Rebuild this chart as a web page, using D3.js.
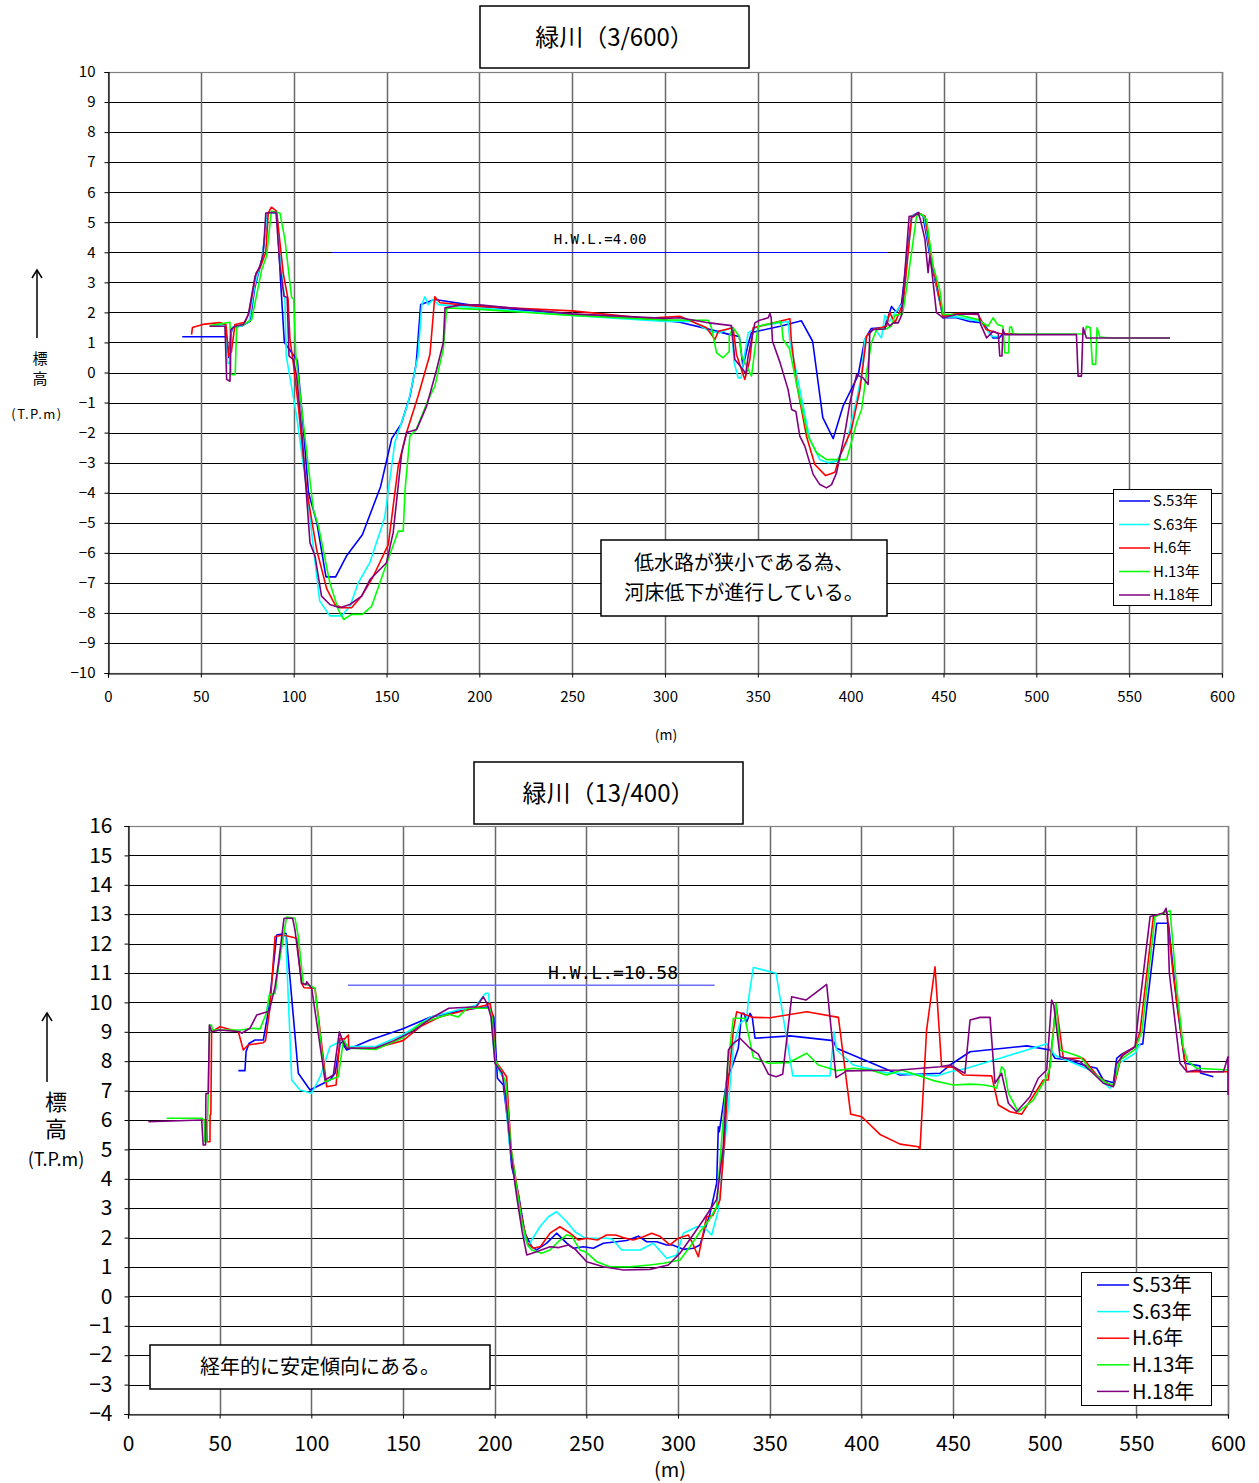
<!DOCTYPE html>
<html><head><meta charset="utf-8">
<script src="https://cdn.jsdelivr.net/npm/d3@7"></script>
<style>
body{margin:0;background:#fff;}
svg{display:block;}
text{font-family:"Noto Sans CJK JP","Noto Sans",sans-serif;fill:#000;}
</style></head>
<body>
<script>
// ---------- DATA ----------
const seriesNames = ["S.53年","S.63年","H.6年","H.13年","H.18年"];
const seriesColors = ["#0000ff","#00ffff","#ff0000","#00ff00","#800080"];

const topTitle = "緑川（3/600）";
const topXTicks = [0,50,100,150,200,250,300,350,400,450,500,550,600];
const topYTicks = [-10,-9,-8,-7,-6,-5,-4,-3,-2,-1,0,1,2,3,4,5,6,7,8,9,10];
const topHWL = [[120.6,4.0],[420,4.0]];
const topHWLLabel = "H.W.L.=4.00";
const topNote = ["低水路が狭小である為、","河床低下が進行している。"];

const topS53 = [[40,1.19],[64,1.19],[65,0.5],[66,1.2],[67,1.5],[72,1.55],[76.5,1.7],[79,2.8],[83,3.8],[86,5.3],[91,5.3],[93,3.0],[95,1.0],[102,0.4],[105,-1.7],[108,-4.0],[112.5,-5.0],[117.4,-6.8],[122.6,-6.8],[128.5,-6.1],[137,-5.4],[146.8,-3.8],[152.8,-2.2],[158,-1.7],[162.6,-0.8],[166,0.3],[168.4,2.26],[176,2.43],[200,2.2],[250,1.93],[300,1.72],[308,1.67],[322.4,1.46],[335,1.26],[340,1.2],[342,0.2],[345,1.0],[346.6,1.33],[362,1.54],[373.5,1.72],[379.5,1.04],[385,-1.5],[390.6,-2.2],[396,-1.1],[404,-0.1],[407.6,1.1],[411,1.46],[418.4,1.5],[422,2.2],[424.7,2.0],[427.4,2.3],[432.8,5.2],[436.4,5.33],[439,5.2],[442.6,3.9],[449.8,1.82],[457,1.82],[464,1.7],[471.4,1.65],[476.7,1.15],[480,1.15],[482,1.3]];
const topS63 = [[56,1.55],[63,1.6],[64.5,0.3],[65.5,0.3],[66.5,1.5],[72,1.55],[76,1.7],[79,2.9],[83,3.8],[86,5.3],[91,5.3],[93,3.6],[95.3,2.4],[96,0.55],[101.6,-1.45],[107,-3.9],[114,-7.6],[119.5,-8.1],[125.8,-8.1],[130.3,-7.78],[134.8,-7.0],[141,-6.33],[149,-4.83],[154.5,-2.33],[161.7,-1.0],[167,0.55],[169,2.26],[170.7,2.52],[172.5,2.26],[175,2.43],[178,2.26],[200,2.15],[250,1.9],[300,1.7],[315,1.7],[324,1.37],[329.5,1.32],[335.8,1.5],[337.3,0.32],[339.4,-0.18],[341,-0.18],[343,0.65],[344.8,1.32],[350.2,1.54],[366.3,1.7],[367.3,1.0],[370.8,0],[378,-2.23],[383.4,-2.9],[388,-3.0],[392.4,-2.95],[397.8,-2.34],[403.2,-0.9],[405.9,-0.07],[407.6,1.1],[410,1.3],[413,1.45],[416.6,1.15],[418.4,1.9],[421,1.7],[424,2.0],[428,2.3],[433,5.2],[436.5,5.3],[439.5,5.2],[443,3.9],[449.8,1.85],[457,1.85],[470,1.7],[476,1.2],[480,1.2]];
const topH6 = [[45,1.26],[45.5,1.5],[51,1.6],[60,1.66],[63.5,1.6],[65,0.55],[66.5,0.7],[68.4,1.6],[73.8,1.67],[76,2.0],[79.7,3.3],[82,3.5],[85,4.0],[86.3,5.3],[88,5.5],[90.8,5.37],[94.4,3.3],[97,2.43],[98,1.1],[99.8,0.33],[102.5,-1.12],[107,-3.9],[112.4,-5.9],[117.8,-7.2],[122.2,-7.72],[125.8,-7.83],[131.2,-7.83],[136.6,-7.44],[142.9,-6.78],[151,-5.72],[156.3,-3.12],[160.8,-2.0],[167,-0.79],[173.4,0.6],[176,2.52],[178.8,2.32],[200,2.2],[250,2.05],[290,1.8],[308,1.87],[322.4,1.49],[326.9,1.1],[328.7,1.37],[336.7,1.49],[338.5,0.6],[343,-0.23],[345.7,0.43],[347.5,1.49],[367.3,1.79],[368,1.09],[370.8,-0.34],[376.2,-2.12],[380.7,-3.06],[386.5,-3.43],[391.5,-3.32],[394.2,-2.78],[400.4,-1.9],[405,-0.57],[408.6,1.21],[412,1.43],[419.3,1.54],[421,2.0],[423.8,1.65],[428.3,2.3],[432.8,5.15],[436.4,5.31],[440,5.2],[443.6,3.76],[449.8,1.87],[457,1.96],[468.7,1.93],[473,1.43],[480,1.3],[490,1.28]];
const topH13 = [[55,1.56],[65.7,1.67],[66.2,-0.07],[68.5,-0.07],[69.3,1.54],[73,1.6],[77.4,1.76],[82.8,3.43],[85.4,3.87],[88,5.37],[92.6,5.31],[95.3,4.43],[98.9,2.49],[100,2.45],[101.2,0.55],[105.2,-1.67],[110.6,-4.56],[113.3,-5.1],[119.5,-7.0],[124,-7.89],[127,-8.22],[131.2,-8.05],[137,-8.05],[142,-7.78],[148.3,-6.67],[156.3,-5.28],[159,-5.28],[160,-3.9],[162.6,-2.12],[166,-1.9],[172.5,-0.9],[176,-0.46],[180.6,0.77],[182.4,2.15],[200,2.1],[250,1.9],[300,1.75],[323.3,1.74],[325,1.5],[327.8,0.65],[331.3,0.49],[334.6,0.7],[334.6,1.21],[336.7,1.49],[340,1.2],[341.2,0.55],[346.6,-0.12],[348.5,0.8],[350.2,1.54],[362,1.7],[363,1.5],[363.6,1.1],[367,0.8],[370,-0.12],[377.1,-2.12],[381.6,-2.67],[387,-2.9],[397.8,-2.9],[400.5,-2.3],[403.2,-1.67],[405.9,-1.23],[408.6,0],[411.2,1.0],[414,1.43],[419,1.45],[422,1.55],[423.8,1.9],[428,1.95],[430,2.76],[435.5,5.2],[438,5.28],[440.9,5.09],[444.4,3.54],[448,2.76],[449.8,1.93],[457,1.93],[468.7,1.76],[474,1.54],[476.7,1.82],[479,1.6],[482,1.54],[483,0.65],[485,0.65],[485.6,1.5],[486.6,1.52],[487.5,1.28],[526,1.28],[527,1.54],[529,1.5],[530.2,0.27],[532,0.27],[532.7,1.49],[534.2,1.18],[540,1.15],[572,1.15]];
const topH18 = [[54.6,1.54],[63,1.54],[63.9,-0.23],[65.7,-0.29],[66.2,1.43],[68.4,1.54],[72.9,1.6],[75.6,1.93],[79.2,3.2],[81.8,3.54],[83.6,3.93],[85,5.31],[90.5,5.33],[92.6,3.54],[94.8,2.54],[96.5,2.5],[97.5,0.55],[99.8,0.43],[101.6,-0.12],[104.3,-1.9],[108.8,-5.67],[111.5,-6.11],[115,-7.44],[119.5,-7.72],[124.9,-7.83],[130.3,-7.72],[136.6,-7.44],[141.1,-6.89],[150,-6.33],[153.6,-5.33],[158.2,-2.67],[160.8,-2.0],[166.2,-1.9],[171.6,-1.12],[177,0.1],[180.6,1.0],[181.5,2.15],[190,2.25],[200,2.25],[250,1.95],[300,1.8],[308,1.82],[324,1.65],[335.8,1.56],[336.7,1.0],[337.6,0.43],[342,0.1],[343.5,-0.05],[344.8,0.55],[348.4,1.65],[351,1.74],[355.6,1.82],[356.5,1.96],[357.2,1.82],[357.9,1.04],[362,0.32],[366.3,-0.57],[368.2,-1.23],[370.5,-1.3],[372.6,-2.12],[375.3,-2.45],[379.8,-3.39],[383.4,-3.73],[387,-3.84],[389.7,-3.73],[392.4,-3.34],[396.9,-2.0],[399.6,-1.0],[403.2,-0.07],[406.7,-0.18],[409.4,-0.4],[410.3,1.32],[412,1.43],[418.5,1.45],[419.3,1.7],[421,1.55],[423,1.65],[425.6,1.65],[427.4,1.9],[431.5,5.2],[434,5.2],[436.4,5.31],[437.5,5.1],[440,4.43],[441.7,3.32],[442.6,3.87],[443.5,3.5],[446.2,1.99],[449.8,1.82],[457,1.93],[468.7,1.96],[470,1.6],[473.2,1.15],[476.7,1.37],[479.5,1.3],[480.3,0.55],[481.5,0.55],[482,1.43],[483,1.26],[521.6,1.26],[522.5,-0.12],[524.3,-0.12],[525,1.2],[525.2,1.49],[527,1.15],[572,1.15]];

const botTitle = "緑川（13/400）";
const botXTicks = [0,50,100,150,200,250,300,350,400,450,500,550,600];
const botYTicks = [-4,-3,-2,-1,0,1,2,3,4,5,6,7,8,9,10,11,12,13,14,15,16];
const botHWL = [[120,10.58],[320,10.58]];
const botHWLLabel = "H.W.L.=10.58";
const botNote = ["経年的に安定傾向にある。"];

const botS53 = [[60.2,7.68],[63.8,7.68],[64.4,8.32],[66,8.6],[69.3,8.72],[73.8,8.72],[76,9.5],[78,10.5],[81.1,12.29],[86.2,12.35],[92.9,7.59],[99.3,7.02],[110.2,7.36],[113,7.6],[116,8.7],[119.3,8.38],[132,8.72],[150,9.1],[165,9.5],[180,9.7],[190,9.8],[197,9.85],[199.5,9.5],[201,7.98],[201.5,7.42],[204.7,7.19],[207,6.0],[209.3,4.41],[212.9,3.5],[216.5,2.15],[220.2,1.69],[222.9,1.58],[228.4,1.81],[233.8,2.15],[239.3,1.81],[242.9,1.64],[248.4,1.69],[253.8,1.64],[259.3,1.81],[266.5,1.86],[272,1.9],[278.4,2.05],[282.9,1.86],[288.4,1.86],[293.8,1.75],[297,1.75],[302.9,1.6],[308.4,1.64],[312,1.75],[317.5,2.83],[321.1,3.85],[322,5.77],[322.5,5.6],[326.6,7.36],[330.2,7.93],[332.9,8.44],[334.7,9.63],[336,9.63],[337.5,9.34],[339.3,9.63],[340.5,9.5],[342,8.78],[361.1,8.86],[384.7,8.7],[386.5,8.44],[421.1,7.53],[442.9,7.59],[448.4,7.87],[459.3,8.32],[490.2,8.52],[503,8.38],[505.6,8.1],[512,8.05],[521.1,7.87],[528.4,7.76],[532,7.36],[537.5,7.27],[539.3,8.1],[542,8.24],[551.1,8.55],[553.5,8.59],[556,10.0],[561.1,12.69],[567.5,12.69],[572,10.0],[576.5,7.93],[584.7,7.84],[585,7.6],[592,7.47]];
const botS63 = [[75.6,9.65],[77.1,10.25],[80.2,10.31],[82,11.2],[84.7,12.24],[86,12.3],[89.3,7.36],[93.8,7.02],[100.2,6.91],[105,7.5],[110.2,8.5],[117.5,8.72],[120,8.5],[135,8.5],[150,8.9],[165,9.5],[190,9.9],[195,10.31],[196.5,10.31],[198,9.6],[200,8.0],[203,7.6],[205,7.4],[208,5.2],[211,4.0],[214,2.8],[216.5,2.0],[218.4,1.69],[220,1.9],[224.7,2.37],[229.3,2.71],[233.8,2.88],[239.3,2.54],[243.8,2.2],[249.3,1.98],[255.6,1.98],[261.1,1.98],[264,1.95],[269.3,1.58],[279.3,1.58],[286.5,1.81],[293.8,1.3],[299.3,1.41],[302.9,2.15],[310.2,2.37],[314,2.37],[318.4,2.09],[322,2.94],[326.6,5.89],[330.2,8.49],[333.8,9.29],[337.5,9.46],[338.4,10.08],[341.1,11.19],[353.5,10.99],[362.6,7.5],[382.9,7.5],[385.1,9.0],[386.5,8.38],[395.6,7.87],[413.8,7.61],[441.1,7.5],[448.4,7.64],[457.5,7.76],[475.6,8.1],[501.1,8.59],[505.6,8.2],[524.7,7.7],[535.6,7.08],[538,7.2],[540,7.9],[549.3,8.27],[552,8.6]];
const botH6 = [[40,6.0],[43,6.0],[43.2,5.26],[44.7,5.26],[44.8,6.17],[45.2,6.2],[45.6,9.0],[50.2,9.17],[60.2,9.0],[62.9,8.38],[65.5,8.55],[73.8,8.63],[75,8.7],[77.5,9.85],[80.2,12.24],[84.7,12.29],[92,12.18],[94.7,10.65],[96,10.5],[102,10.48],[108.4,7.13],[113.5,7.19],[115.6,8.78],[118,8.75],[120.2,8.89],[120.4,8.44],[135,8.45],[150,8.7],[160,9.2],[170,9.5],[185,9.75],[195,9.9],[197.5,9.97],[199,9.5],[200.5,8.0],[204,7.7],[206.5,7.47],[209,5.0],[212,3.8],[215,2.6],[218,1.8],[221.1,1.64],[225,1.7],[230.2,2.15],[235.6,2.37],[241.1,2.15],[245.6,1.92],[250,1.98],[256,1.92],[261.1,2.09],[266,2.09],[270,2.0],[275.6,1.92],[281.1,2.03],[285.6,2.15],[290,2.05],[295.6,1.75],[300.2,1.98],[305.6,2.09],[308,1.8],[311.1,1.35],[315.6,2.71],[319,2.75],[322.9,3.28],[325,5.0],[327,7.0],[330.2,9.06],[332,9.68],[336,9.6],[341.1,9.49],[350.2,9.48],[370.2,9.68],[387.5,9.49],[394.2,6.2],[400.2,6.11],[410.2,5.51],[421.1,5.18],[431.1,5.09],[432,5.0],[435.6,9.06],[440.2,11.21],[443.8,7.81],[450,7.8],[455.6,7.53],[471.1,7.5],[474.7,6.51],[481.1,6.28],[487.5,6.2],[494.7,6.91],[499.3,7.36],[502,7.36],[506.2,9.97],[510.2,8.1],[521,8.1],[528.4,7.53],[535.6,7.19],[538,7.2],[542,8.21],[549.3,8.49],[552,9.0],[559.3,12.92],[566.6,13.08],[570,11.0],[575.6,8.38],[577.5,7.64],[586.4,7.64],[597.5,7.64],[600,7.64]];
const botH13 = [[21.1,6.06],[40.2,6.06],[41.5,6.0],[42,5.26],[42.9,5.26],[43.5,6.2],[44.5,9.23],[45.6,9.23],[46,9.06],[61.1,9.06],[68.4,9.12],[72,9.1],[75.6,9.65],[77.1,10.25],[80.2,10.31],[82,11.2],[86.5,12.9],[91.1,12.86],[92.9,12.24],[95.6,10.65],[100,10.55],[102,10.48],[107.5,7.3],[114.7,7.47],[117.5,8.72],[120.2,8.44],[135,8.4],[150,8.8],[160,9.3],[175,9.6],[180,9.5],[185,9.8],[197,9.8],[198.5,9.5],[200.5,8.0],[204,7.6],[206,7.3],[209,5.0],[212,3.7],[215,2.5],[218,1.75],[220.2,1.58],[225.6,1.47],[230.2,1.58],[234.7,1.86],[239.3,2.09],[242,2.05],[246.5,1.58],[250,1.5],[255.6,1.18],[262.9,1.01],[273.8,1.01],[284.7,1.07],[292,1.13],[301.1,1.24],[306.5,1.69],[312,2.2],[317,2.6],[321.1,3.05],[324,5.5],[327,7.8],[330.2,9.46],[336.5,9.46],[341.1,8.13],[349.3,7.93],[360.2,7.95],[370.2,8.27],[376.5,7.87],[386.5,7.68],[395.6,7.76],[405,7.7],[413.8,7.53],[422,7.7],[439.3,7.34],[450.2,7.19],[459.3,7.22],[466,7.2],[472,7.13],[473.8,7.08],[476.5,7.81],[478,7.7],[480.2,6.91],[485.6,6.28],[493.8,6.68],[501.1,7.47],[503,7.8],[506.2,9.97],[508.4,8.38],[519.3,8.15],[526.6,7.59],[533.8,7.25],[537.5,7.2],[541.1,8.04],[549.3,8.4],[553,9.0],[560.2,12.92],[568.4,13.12],[572,10.5],[575.6,8.49],[578,8.0],[583,7.76],[600,7.7]];
const botH18 = [[11.1,5.94],[40.2,6.0],[41,5.15],[42.3,5.15],[42.5,6.9],[43.8,6.9],[44.4,9.23],[45.6,9.0],[50.2,9.06],[61.1,9.0],[62,8.95],[66.5,9.12],[70.2,9.57],[74.7,9.66],[77,9.7],[80.2,10.53],[82,11.3],[85.1,12.86],[89.8,12.86],[91.1,12.46],[94.7,10.65],[97,10.6],[97.5,10.7],[100.2,10.48],[107.5,7.36],[112,7.53],[115.3,9.0],[117,8.7],[119.3,8.44],[135,8.45],[145,8.7],[155,9.0],[165,9.45],[175,9.8],[190,9.85],[193.8,10.19],[196,9.95],[198,9.5],[200.2,7.93],[204,7.6],[206,6.8],[209,4.8],[212,3.4],[215,2.2],[217.5,1.41],[222.9,1.52],[230.2,1.69],[235,1.66],[240.2,1.75],[244,1.6],[250.2,1.18],[259.3,1.01],[270.2,0.9],[284.7,0.92],[294.7,1.07],[301.1,1.47],[307.5,2.03],[313.8,2.6],[318,3.0],[321.1,3.3],[324.7,5.1],[327.5,8.38],[330.2,8.61],[333.8,8.78],[339.3,8.44],[343.8,8.24],[349.3,7.56],[353.5,7.47],[357.1,7.56],[362,10.19],[369.8,10.08],[381.1,10.61],[386.2,7.44],[392,7.67],[421.1,7.7],[442.9,7.81],[448.4,7.87],[456.5,7.59],[459.3,9.4],[464.7,9.49],[470.2,9.49],[472.9,7.25],[476.5,7.59],[480.2,6.57],[484.7,6.28],[492,6.79],[496.5,7.42],[501.1,7.7],[503.8,10.08],[505,9.9],[508.4,8.15],[519,8.0],[525.6,7.64],[532,7.25],[537.5,7.13],[539,7.9],[542.9,8.21],[549.3,8.49],[551,9.5],[557.5,12.92],[564.7,13.03],[566.2,13.2],[567,12.9],[568,11.0],[573.8,7.93],[577.6,7.64],[583,7.7],[586.4,7.64],[597.5,7.64],[600,8.15],[600,6.85]];

// ---------- DRAW ----------
const svg = d3.select("body").append("svg").attr("width",1259).attr("height",1483);

function drawChart(c){
  const g = svg.append("g");
  const x = d3.scaleLinear().domain([0,600]).range([c.left,c.right]);
  const y = d3.scaleLinear().domain([c.yTicks[0], c.yTicks[c.yTicks.length-1]]).range([c.bottom,c.top]);
  const snap = v => Math.round(v)+0.5;

  // horizontal grid
  g.append("g").selectAll("line").data(c.yTicks).join("line")
    .attr("x1",c.left).attr("x2",c.right)
    .attr("y1",d=>snap(y(d))).attr("y2",d=>snap(y(d)))
    .attr("stroke","#000").attr("stroke-width",1);
  // vertical grid
  g.append("g").selectAll("line").data(c.xTicks.slice(1)).join("line")
    .attr("x1",d=>snap(x(d))).attr("x2",d=>snap(x(d)))
    .attr("y1",c.top).attr("y2",c.bottom)
    .attr("stroke","#6a6a6a").attr("stroke-width",1.5);
  // border
  g.append("rect").attr("x",c.left+0.5).attr("y",c.top+0.5)
    .attr("width",c.right-c.left).attr("height",c.bottom-c.top)
    .attr("fill","none").attr("stroke","#808080").attr("stroke-width",1.2);

  // axes
  const ax = g.append("g").attr("transform",`translate(0,${c.bottom+0.5})`)
    .call(d3.axisBottom(x).tickValues(c.xTicks).tickSize(4).tickPadding(c.xPad).tickFormat(d3.format("d")));
  const ay = g.append("g").attr("transform",`translate(${c.left+0.5},0)`)
    .call(d3.axisLeft(y).tickValues(c.yTicks).tickSize(4).tickPadding(c.yPad).tickFormat(d3.format("d")));
  [ax,ay].forEach(a=>{
    a.select(".domain").attr("stroke","#000").attr("stroke-width",1.2);
    a.selectAll(".tick line").attr("stroke","#000");
    a.selectAll("text").style("font-size",c.tickFont+"px").style("font-family","'Noto Sans CJK JP',sans-serif").attr("fill","#000");
  });

  // HWL line
  g.append("path").datum(c.hwl)
    .attr("d",d3.line().x(d=>x(d[0])).y(d=>c.hwlSnap ? snap(y(d[1])) : y(d[1])))
    .attr("stroke",c.hwlColor).attr("stroke-width",c.hwlWidth).attr("fill","none");
  g.append("text").attr("x",c.hwlLabelX).attr("y",c.hwlLabelY)
    .attr("text-anchor","middle").style("font-family","'DejaVu Sans Mono','Liberation Mono',monospace")
    .style("font-size",c.hwlFont+"px").text(c.hwlLabel);

  // series
  const line = d3.line().x(d=>x(d[0])).y(d=>y(d[1]));
  c.series.forEach((s,i)=>{
    g.append("path").datum(s).attr("d",line)
      .attr("fill","none").attr("stroke",seriesColors[i]).attr("stroke-width",c.lw)
      .attr("stroke-linejoin","round");
  });

  // title box
  g.append("rect").attr("x",c.titleBox[0]).attr("y",c.titleBox[1]).attr("width",c.titleBox[2]).attr("height",c.titleBox[3])
    .attr("fill","#fff").attr("stroke","#000").attr("stroke-width",1.5);
  g.append("text").attr("x",c.titleBox[0]+c.titleBox[2]/2).attr("y",c.titleBox[1]+c.titleBox[3]/2)
    .attr("dy","0.36em").attr("text-anchor","middle").style("font-size","24px").text(c.title);

  // note box
  g.append("rect").attr("x",c.noteBox[0]).attr("y",c.noteBox[1]).attr("width",c.noteBox[2]).attr("height",c.noteBox[3])
    .attr("fill","#fff").attr("stroke","#000").attr("stroke-width",1.5);
  c.note.forEach((t,i)=>{
    g.append("text").attr("x",c.noteBox[0]+c.noteBox[2]/2)
      .attr("y",c.noteBox[1]+c.noteBox[3]/2 + (i-(c.note.length-1)/2)*c.noteLH)
      .attr("dy","0.36em").attr("text-anchor","middle").style("font-size","20px").text(t);
  });

  // legend
  const L = c.legend;
  g.append("rect").attr("x",L.x+0.5).attr("y",L.y+0.5).attr("width",L.w).attr("height",L.h)
    .attr("fill","#fff").attr("stroke","#000").attr("stroke-width",1);
  seriesNames.forEach((n,i)=>{
    const yy = L.y + L.first + i*L.step;
    g.append("line").attr("x1",L.x+L.lx1).attr("x2",L.x+L.lx2).attr("y1",yy).attr("y2",yy)
      .attr("stroke",seriesColors[i]).attr("stroke-width",1.5);
    g.append("text").attr("x",L.x+L.tx).attr("y",yy).attr("dy","0.36em")
      .style("font-size",L.font+"px").text(n);
  });

  // axis titles
  g.append("text").attr("x",c.mLabel[0]).attr("y",c.mLabel[1]).attr("dy","0.36em").attr("text-anchor","middle")
    .style("font-size",c.mLabel[2]+"px").text("(m)");
  const A = c.yLab;
  g.append("line").attr("x1",A.ax).attr("x2",A.ax).attr("y1",A.ay2).attr("y2",A.ay1+1)
    .attr("stroke","#000").attr("stroke-width",1.5);
  g.append("path").attr("d",`M${A.ax-5},${A.ay1+8}L${A.ax},${A.ay1}L${A.ax+5},${A.ay1+8}`)
    .attr("fill","none").attr("stroke","#000").attr("stroke-width",1.5);
  // vertical "標高"
  g.append("text").attr("x",A.kx).attr("y",A.ktop)
    .style("writing-mode","vertical-rl").style("glyph-orientation-vertical","0")
    .style("letter-spacing",A.ks+"px").style("font-size",A.kf+"px").text("標高");
  g.append("text").attr("x",A.tx).attr("y",A.ty).attr("dy","0.36em").attr("text-anchor","middle")
    .style("font-size",A.tf+"px").style("letter-spacing",A.tls+"px").text("(T.P.m)");
}

drawChart({
  left:108,right:1222,top:72,bottom:673,
  xTicks:topXTicks,yTicks:topYTicks,tickFont:15,xPad:14,yPad:9,
  hwl:topHWL,hwlSnap:true,hwlColor:"#0000ff",hwlWidth:1,hwlLabel:topHWLLabel,hwlLabelX:600,hwlLabelY:244,hwlFont:14,
  series:[topS53,topS63,topH6,topH13,topH18],lw:1.6,
  title:topTitle,titleBox:[480,6,269,62],
  note:topNote,noteBox:[601,540,286,76],noteLH:30,
  legend:{x:1113,y:489,w:98,h:116,first:12,step:23.5,lx1:6,lx2:37,tx:40,font:15},
  mLabel:[666,735,14],
  yLab:{ax:37,ay1:270,ay2:338,kx:40,ktop:351,kf:15,ks:5,tx:37,ty:414,tf:13,tls:1.5}
});

drawChart({
  left:128,right:1228,top:826,bottom:1414,
  xTicks:botXTicks,yTicks:botYTicks,tickFont:21,xPad:18,yPad:12,
  hwl:botHWL,hwlSnap:false,hwlColor:"#6f6fff",hwlWidth:1.5,hwlLabel:botHWLLabel,hwlLabelX:613,hwlLabelY:979,hwlFont:18,
  series:[botS53,botS63,botH6,botH13,botH18],lw:1.6,
  title:botTitle,titleBox:[474,762,269,62],
  note:botNote,noteBox:[150,1345,340,44],noteLH:30,
  legend:{x:1081,y:1272,w:130,h:133,first:13,step:26.6,lx1:16,lx2:48,tx:51,font:20},
  mLabel:[670,1470,20],
  yLab:{ax:47,ay1:1013,ay2:1082,kx:56,ktop:1091,kf:22,ks:5,tx:56,ty:1160,tf:18,tls:0}
});
</script>
</body></html>
